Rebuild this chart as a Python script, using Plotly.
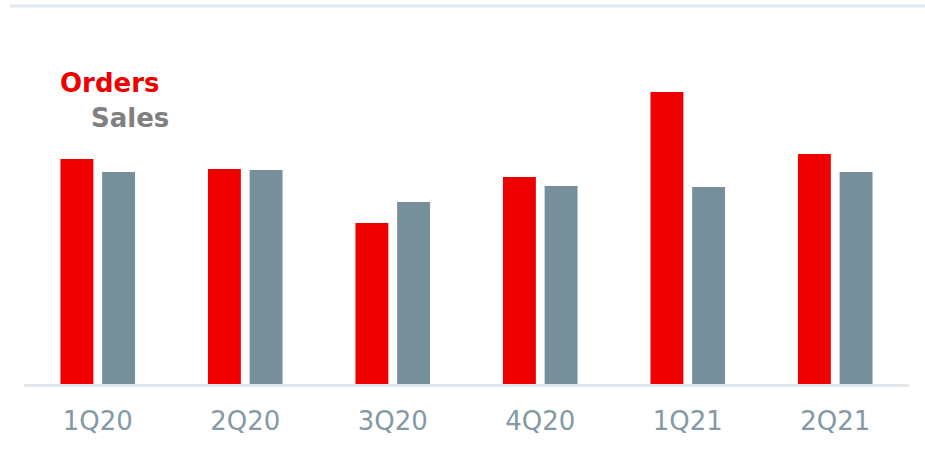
import plotly.graph_objects as go

# Quarterly order intake vs. sales (relative index values)
quarters = ["1Q20", "2Q20", "3Q20", "4Q20", "1Q21", "2Q21"]
orders = [225, 215, 161, 207, 292, 230]
sales = [212, 214, 182, 198, 197, 212]

RED = "#ee0000"
SLATE = "#778f9b"
TICK = "#8399a6"
LINE = "#e2e7ec"

W, H = 925, 452
L, R, T, B = 24, 16, 6, 68

fig = go.Figure()
fig.add_bar(name="Orders", x=quarters, y=orders, marker_color=RED,
            marker_line_width=0)
fig.add_bar(name="Sales", x=quarters, y=sales, marker_color=SLATE,
            marker_line_width=0)

plot_w = W - L - R
plot_h = H - T - B


def px_x(px):
    return (px - L) / plot_w


def px_y(py):
    return (H - B - py) / plot_h


fig.update_layout(
    width=W, height=H,
    margin=dict(l=L, r=R, t=T, b=B),
    paper_bgcolor="white", plot_bgcolor="white",
    barmode="group", bargap=0.435, bargroupgap=0.21,
    showlegend=False,
    font=dict(family="DejaVu Sans"),
    xaxis=dict(
        showgrid=False, zeroline=False,
        showline=True, linecolor=LINE, linewidth=3,
        ticks="", tickfont=dict(size=26, color=TICK),
        ticklabelstandoff=12,
    ),
    yaxis=dict(visible=False, range=[0, plot_h], fixedrange=True),
    shapes=[dict(type="line", xref="paper", yref="paper",
                 x0=px_x(10), x1=px_x(925), y0=px_y(6), y1=px_y(6),
                 line=dict(color=LINE, width=3))],
    annotations=[
        dict(text="<b>Orders</b>", xref="paper", yref="paper",
             x=px_x(58), y=px_y(83), xanchor="left", yanchor="middle",
             showarrow=False, font=dict(size=26, color=RED)),
        dict(text="<b>Sales</b>", xref="paper", yref="paper",
             x=px_x(89), y=px_y(118), xanchor="left", yanchor="middle",
             showarrow=False, font=dict(size=26, color="#808080")),
    ],
)

fig.write_html("out.html")
